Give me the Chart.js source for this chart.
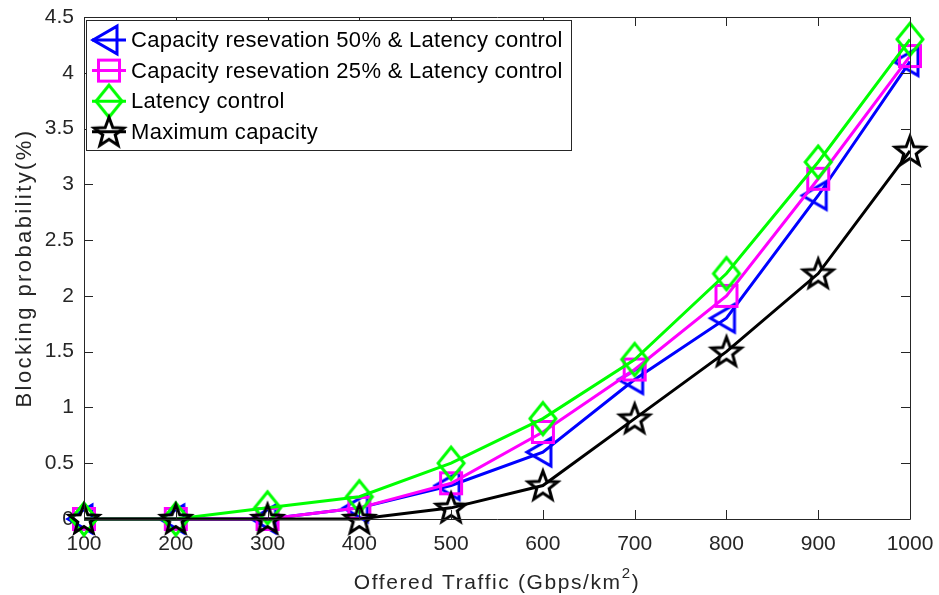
<!DOCTYPE html>
<html>
<head>
<meta charset="utf-8">
<script src="https://cdn.jsdelivr.net/npm/chart.js@4/dist/chart.umd.min.js"></script>
<style>
  html, body { margin: 0; padding: 0; background: #ffffff; }
  #wrap { width: 939px; height: 595px; }
</style>
</head>
<body>
<div id="wrap"><canvas id="chart" width="939" height="595"></canvas></div>
<script>
// Offered traffic (Gbps/km^2)
const traffic = [100, 200, 300, 400, 500, 600, 700, 800, 900, 1000];
// Blocking probability (%) per scheme
const reserve50Latency = [0, 0, 0, 0.1, 0.3, 0.6, 1.25, 1.8, 2.9, 4.1];
const reserve25Latency = [0, 0, 0, 0.1, 0.32, 0.78, 1.34, 2.0, 3.05, 4.15];
const latencyControl   = [0, 0, 0.1, 0.2, 0.5, 0.9, 1.43, 2.2, 3.2, 4.3];
const maximumCapacity  = [0, 0, 0, 0, 0.1, 0.3, 0.9, 1.5, 2.2, 3.3];
const seriesNames = [
  'Capacity resevation 50% & Latency control',
  'Capacity resevation 25% & Latency control',
  'Latency control',
  'Maximum capacity'
];
const yTickValues = [0, 0.5, 1, 1.5, 2, 2.5, 3, 3.5, 4, 4.5];
const xTickValues = traffic;
const yAxisTitle = 'Blocking probability(%)';
const xAxisTitle = ['Offered Traffic (Gbps/km', '2', ')'];

const FONT = "'Liberation Sans', Arial, Helvetica, sans-serif";
const AXIS_COLOR = '#262626';

// Hollow marker glyphs drawn onto small canvases
function makeMarker(shape, color) {
  const size = 46, c = size / 2;
  const cv = document.createElement('canvas');
  cv.width = size; cv.height = size;
  const g = cv.getContext('2d');
  g.strokeStyle = color;
  g.lineWidth = 3;
  g.lineJoin = 'miter';
  g.beginPath();
  if (shape === 'triangleLeft') {
    const r = 16;
    for (let k = 0; k < 3; k++) {
      const a = Math.PI + k * 2 * Math.PI / 3;
      const px = c + r * Math.cos(a), py = c + r * Math.sin(a);
      k === 0 ? g.moveTo(px, py) : g.lineTo(px, py);
    }
    g.closePath();
  } else if (shape === 'square') {
    const h = 10.5;
    g.rect(c - h, c - h, 2 * h, 2 * h);
  } else if (shape === 'diamond') {
    const hw = 13, hh = 16;
    g.moveTo(c, c - hh); g.lineTo(c + hw, c); g.lineTo(c, c + hh); g.lineTo(c - hw, c);
    g.closePath();
  } else if (shape === 'pentagram') {
    const ro = 15.5, ri = 6.5;
    for (let k = 0; k < 10; k++) {
      const r = k % 2 === 0 ? ro : ri;
      const a = -Math.PI / 2 + k * Math.PI / 5;
      const px = c + r * Math.cos(a), py = c + 1 + r * Math.sin(a);
      k === 0 ? g.moveTo(px, py) : g.lineTo(px, py);
    }
    g.closePath();
  }
  g.stroke();
  return cv;
}

const seriesStyles = [
  { color: '#0000ff', marker: makeMarker('triangleLeft', '#0000ff'), data: reserve50Latency, order: 3 },
  { color: '#ff00ff', marker: makeMarker('square', '#ff00ff'), data: reserve25Latency, order: 2 },
  { color: '#00ff00', marker: makeMarker('diamond', '#00ff00'), data: latencyControl, order: 1 },
  { color: '#000000', marker: makeMarker('pentagram', '#000000'), data: maximumCapacity, order: 0 }
];

const datasets = seriesStyles.map((s, i) => ({
  label: seriesNames[i],
  data: traffic.map((t, j) => ({ x: t, y: s.data[j] })),
  borderColor: s.color,
  backgroundColor: s.color,
  borderWidth: 3,
  tension: 0,
  pointStyle: s.marker,
  pointRadius: 14,
  pointHoverRadius: 14,
  order: s.order,
  clip: false
}));

// Box around the axes with inward tick marks
const axesFrame = {
  id: 'axesFrame',
  afterDatasetsDraw(chart) {
    const { ctx, chartArea: a, scales } = chart;
    const tl = 9;
    ctx.save();
    ctx.strokeStyle = AXIS_COLOR;
    ctx.lineWidth = 1;
    ctx.beginPath();
    ctx.rect(Math.round(a.left) + 0.5, Math.round(a.top) + 0.5,
             Math.round(a.right - a.left), Math.round(a.bottom - a.top));
    xTickValues.forEach(v => {
      const px = Math.round(scales.x.getPixelForValue(v)) + 0.5;
      ctx.moveTo(px, a.bottom); ctx.lineTo(px, a.bottom - tl);
      ctx.moveTo(px, a.top); ctx.lineTo(px, a.top + tl);
    });
    yTickValues.forEach(v => {
      const py = Math.round(scales.y.getPixelForValue(v)) + 0.5;
      ctx.moveTo(a.left, py); ctx.lineTo(a.left + tl, py);
      ctx.moveTo(a.right, py); ctx.lineTo(a.right - tl, py);
    });
    ctx.stroke();
    ctx.restore();
  }
};

// Axis titles; the x title carries a raised exponent
const axisTitles = {
  id: 'axisTitles',
  afterDraw(chart) {
    const { ctx, chartArea: a } = chart;
    ctx.save();
    ctx.fillStyle = AXIS_COLOR;
    ctx.textAlign = 'left';
    ctx.textBaseline = 'alphabetic';
    ctx.letterSpacing = '1.6px';
    const [main, sup, tail] = xAxisTitle;
    ctx.font = '21px ' + FONT;
    const w1 = ctx.measureText(main).width, w3 = ctx.measureText(tail).width;
    ctx.font = '15px ' + FONT;
    const w2 = ctx.measureText(sup).width;
    const x = (a.left + a.right) / 2 - (w1 + w2 + w3) / 2;
    const y = 589;
    ctx.font = '21px ' + FONT;
    ctx.fillText(main, x, y);
    ctx.font = '15px ' + FONT;
    ctx.fillText(sup, x + w1, y - 11);
    ctx.font = '21px ' + FONT;
    ctx.fillText(tail, x + w1 + w2, y);

    ctx.translate(31, (a.top + a.bottom) / 2);
    ctx.rotate(-Math.PI / 2);
    ctx.textAlign = 'center';
    ctx.letterSpacing = '2.4px';
    ctx.font = '22px ' + FONT;
    ctx.fillText(yAxisTitle, 0, 0);
    ctx.restore();
  }
};

// Boxed legend in the upper-left corner, line through each marker
const boxedLegend = {
  id: 'boxedLegend',
  afterDraw(chart) {
    const { ctx } = chart;
    const bx = 86, by = 20, bw = 485, bh = 130;
    const rowY0 = 40, rowGap = 30.6;
    ctx.save();
    ctx.fillStyle = '#ffffff';
    ctx.fillRect(bx, by, bw, bh);
    ctx.strokeStyle = AXIS_COLOR;
    ctx.lineWidth = 1;
    ctx.strokeRect(bx + 0.5, by + 0.5, bw, bh);
    chart.data.datasets.forEach((ds, i) => {
      const y = rowY0 + i * rowGap;
      ctx.strokeStyle = ds.borderColor;
      ctx.lineWidth = 3;
      ctx.beginPath();
      ctx.moveTo(92, y); ctx.lineTo(126, y);
      ctx.stroke();
      const m = ds.pointStyle;
      ctx.drawImage(m, 109 - m.width / 2, y - m.height / 2);
      ctx.fillStyle = '#000000';
      ctx.font = '22px ' + FONT;
      ctx.letterSpacing = '0.3px';
      ctx.textAlign = 'left';
      ctx.textBaseline = 'middle';
      ctx.fillText(ds.label, 131, y + 1);
    });
    ctx.restore();
  }
};

new Chart(document.getElementById('chart'), {
  type: 'line',
  data: { datasets },
  plugins: [axesFrame, axisTitles, boxedLegend],
  options: {
    responsive: false,
    animation: false,
    devicePixelRatio: 1,
    layout: { padding: { top: 17, right: 29, left: 0, bottom: 0 } },
    plugins: { legend: { display: false }, tooltip: { enabled: false } },
    scales: {
      x: {
        type: 'linear',
        min: 100, max: 1000,
        afterFit: s => { s.height = 76; s.paddingLeft = 0; s.paddingRight = 0; },
        afterBuildTicks: s => { s.ticks = xTickValues.map(v => ({ value: v })); },
        grid: { display: false, drawTicks: false },
        border: { display: false },
        ticks: { padding: 13, color: AXIS_COLOR, font: { family: FONT, size: 21 }, maxRotation: 0,
                 callback: v => String(v) },
        title: { display: false }
      },
      y: {
        type: 'linear',
        min: 0, max: 4.5,
        afterFit: s => { s.width = 84; s.paddingTop = 0; s.paddingBottom = 0; },
        afterBuildTicks: s => { s.ticks = yTickValues.map(v => ({ value: v })); },
        grid: { display: false, drawTicks: false },
        border: { display: false },
        ticks: { padding: 10, color: AXIS_COLOR, font: { family: FONT, size: 21 },
                 callback: v => String(v) },
        title: { display: false }
      }
    }
  }
});
</script>
</body>
</html>
